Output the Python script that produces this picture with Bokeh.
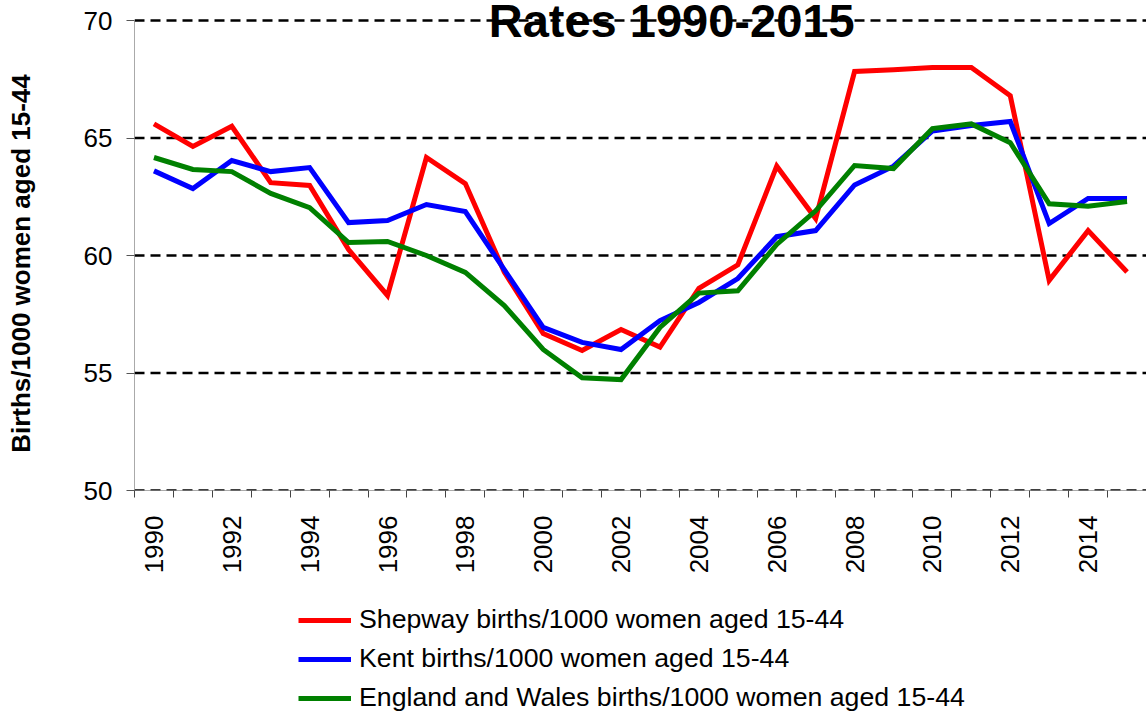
import math
from bokeh.plotting import figure
from bokeh.layouts import column
from bokeh.models import Label, Legend, LegendItem, FixedTicker, Range1d, ColumnDataSource, Span
from bokeh.embed import file_html
from bokeh.resources import INLINE

years = list(range(1990, 2016))
shepway = [65.6, 64.64, 65.5, 63.1, 62.98, 60.25, 58.3, 64.17, 63.06, 59.3, 56.68, 55.96, 56.85, 56.1,
           58.6, 59.6, 63.8, 61.57, 67.83, 67.9, 68.0, 68.0, 66.8, 58.94, 61.06, 59.3]
kent = [63.6, 62.85, 64.04, 63.57, 63.74, 61.4, 61.49, 62.17, 61.87, 59.4, 56.94, 56.3, 56.0, 57.23,
        58.0, 59.02, 60.8, 61.06, 63.0, 63.8, 65.3, 65.53, 65.7, 61.36, 62.43, 62.43]
eng_wales = [64.17, 63.66, 63.57, 62.64, 62.04, 60.55, 60.6, 60.0, 59.28, 57.87, 56.0, 54.8, 54.72, 56.94,
             58.4, 58.5, 60.47, 61.9, 63.83, 63.7, 65.4, 65.6, 64.8, 62.2, 62.1, 62.3]
series_names = ["Shepway births/1000 women aged 15-44",
                "Kent births/1000 women aged 15-44",
                "England and Wales births/1000 women aged 15-44"]
series_colors = ["#FF0000", "#0000FF", "#008000"]
tick_years = list(range(1990, 2015, 2))
tick_labels = [str(y) for y in tick_years]
y_ticks = [50, 55, 60, 65, 70]
title_text = "Rates 1990-2015"
y_title = "Births/1000 women aged 15-44"

FONT = "Liberation Sans"
Y_MIN, Y_MAX = 50, 70
Y_TOP = Y_MAX + 20 / 23.5   # room above the top gridline for the title

p = figure(width=1146, height=585, x_range=Range1d(1989.5, 2015.5), y_range=Range1d(Y_MIN, Y_TOP),
           output_backend="svg", toolbar_location=None,
           min_border_left=134, min_border_right=0, min_border_top=0, min_border_bottom=95)
p.outline_line_color = None
p.background_fill_color = "white"
p.border_fill_color = "white"

p.xgrid.visible = False
p.ygrid.visible = False
for loc in y_ticks:
    p.add_layout(Span(location=loc, dimension="width", line_color="black", line_dash="10 6",
                      line_width=2.5, level="underlay"))

# y axis
p.yaxis.bounds = (Y_MIN, Y_MAX)
p.yaxis.ticker = FixedTicker(ticks=y_ticks)
p.yaxis.axis_line_color = "#555555"
p.yaxis.axis_line_dash = "1 1"
p.yaxis.major_tick_out = 8
p.yaxis.major_tick_in = 0
p.yaxis.major_tick_line_color = "#555555"
p.yaxis.minor_tick_out = 0
p.yaxis.minor_tick_in = 0
p.yaxis.major_label_text_font = FONT
p.yaxis.major_label_text_font_size = "26px"
p.yaxis.major_label_text_color = "black"
p.yaxis.major_label_standoff = 14
# trailing non-breaking spaces move the centred label down to the gridded span
p.yaxis.axis_label = y_title + "\u00a0" * 5
p.yaxis.axis_label_text_font = FONT
p.yaxis.axis_label_text_font_size = "26px"
p.yaxis.axis_label_text_font_style = "bold"
p.yaxis.axis_label_text_color = "black"
p.yaxis.axis_label_standoff = 45

# x axis
p.xaxis.ticker = FixedTicker(ticks=tick_years, minor_ticks=[1989.5 + i for i in range(27)])
p.xaxis.major_label_overrides = {y: lab for y, lab in zip(tick_years, tick_labels)}
p.xaxis.major_label_orientation = math.pi / 2
p.xaxis.major_label_text_font = FONT
p.xaxis.major_label_text_font_size = "26px"
p.xaxis.major_label_text_color = "black"
p.xaxis.major_label_standoff = 18
p.xaxis.major_tick_out = 0
p.xaxis.major_tick_in = 0
p.xaxis.minor_tick_out = 7
p.xaxis.minor_tick_in = 0
p.xaxis.minor_tick_line_color = "#444444"
p.xaxis.axis_line_color = "#555555"
p.xaxis.axis_line_dash = "1 1"

# title drawn beneath the gridlines
title = Label(x=(1989.5 + 2015.5) / 2 + 0.8, y=Y_MAX, text=title_text, text_font=FONT,
              text_font_size="47px", text_font_style="bold", text_align="center",
              text_baseline="middle", text_color="black", level="image")
p.add_layout(title)

all_series = [shepway, kent, eng_wales]
for vals, color in zip(all_series, series_colors):
    src = ColumnDataSource(dict(x=years, y=vals))
    p.line("x", "y", source=src, line_color=color, line_width=5, line_join="miter")

# legend panel below the chart (its own lines sit outside its visible range)
p2 = figure(width=1146, height=126, x_range=Range1d(0, 1), y_range=Range1d(0, 1),
            output_backend="svg", toolbar_location=None, x_axis_location=None, y_axis_location=None,
            min_border_left=0, min_border_right=0, min_border_top=0, min_border_bottom=0)
p2.outline_line_color = None
p2.grid.visible = False
leg_renderers = [p2.line(x=years, y=vals, line_color=c, line_width=5)
                 for vals, c in zip(all_series, series_colors)]
legend = Legend(items=[LegendItem(label=n, renderers=[r]) for n, r in zip(series_names, leg_renderers)],
                location=(164, -6), orientation="vertical",
                border_line_color=None, background_fill_alpha=0, padding=0, margin=0, spacing=0,
                glyph_width=53, glyph_height=20, label_standoff=8, label_height=39,
                label_text_font=FONT, label_text_font_size="26.7px", label_text_color="black")
p2.add_layout(legend)

layout = column(p, p2, spacing=0)
open("out.html", "w").write(file_html(layout, INLINE))
